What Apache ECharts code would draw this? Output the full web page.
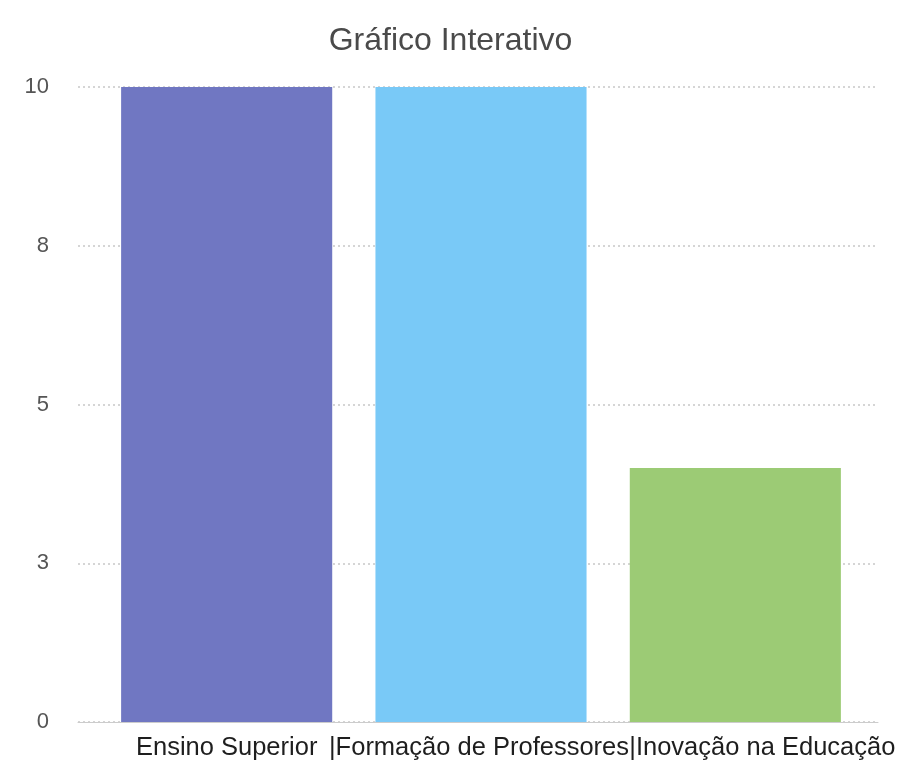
<!DOCTYPE html>
<html>
<head>
<meta charset="utf-8">
<script src="https://cdn.jsdelivr.net/npm/echarts@6/dist/echarts.min.js"></script>
<style>html,body{margin:0;padding:0;background:#fff}#c{width:901px;height:760px}</style>
</head>
<body>
<div id="c"></div>
<script>
const titleText = 'Gráfico Interativo';
const categories = ['Ensino Superior', 'Formação de Professores', 'Inovação na Educação'];
const values = [10, 10, 4];
const barColors = ['#7077C2', '#79C9F7', '#9CCB75'];
const yTicks = [0, 2.5, 5, 7.5, 10];

const FONT = '"Liberation Sans", Arial, Helvetica, sans-serif';
const chart = echarts.init(document.getElementById('c'), null, {renderer: 'canvas'});
chart.setOption({
  animation: false,
  backgroundColor: '#ffffff',
  title: {
    text: titleText, left: 'center', top: 20,
    textStyle: {fontFamily: FONT, fontSize: 32, fontWeight: 'normal', color: '#4a4a4a'}
  },
  grid: [
    {left: 78, right: 23, top: 87, bottom: 38, outerBoundsMode: 'none', containLabel: false},
    {left: 99.5, right: 38.5, top: 87, bottom: 38, outerBoundsMode: 'none', containLabel: false}
  ],
  xAxis: [
    {
      type: 'category', gridIndex: 0, data: categories,
      axisLine: {show: true, lineStyle: {color: '#ccc', width: 1}},
      axisTick: {show: false}, axisLabel: {show: false}, splitLine: {show: false}
    },
    {
      type: 'category', gridIndex: 1, data: categories,
      axisLine: {show: false}, axisTick: {show: false},
      axisLabel: {
        interval: 0, margin: 13,
        fontFamily: FONT, fontSize: 25.5, color: '#1e1e1e',
        formatter: function (v, i) {
          if (i === 0) return '{a|' + v + '}';
          if (i === 1) return '{b||' + v + '}';
          return '{c||' + v + '}';
        },
        rich: {
          a: {fontFamily: FONT, fontSize: 25.5, color: '#1e1e1e', padding: [0, 0, 0, 0]},
          b: {fontFamily: FONT, fontSize: 25.5, color: '#1e1e1e', padding: [0, 4, 0, 0]},
          c: {fontFamily: FONT, fontSize: 25.5, color: '#1e1e1e', padding: [0, 0, 0, 54]}
        }
      }
    }
  ],
  yAxis: [
    {
      type: 'value', gridIndex: 0, min: 0, max: 10, interval: 2.5,
      axisLine: {show: false}, axisTick: {show: false},
      axisLabel: {
        margin: 29, fontFamily: FONT, fontSize: 22, color: '#555',
        formatter: function (v) { return String(Math.round(v)); }
      },
      splitLine: {show: true, lineStyle: {color: '#c8c8c8', type: [2, 3], width: 1.5}}
    },
    {
      type: 'value', gridIndex: 1, min: 0, max: 10, interval: 2.5, show: false,
      splitLine: {show: false}
    }
  ],
  series: [{
    type: 'bar', xAxisIndex: 1, yAxisIndex: 1,
    barWidth: '83%',
    data: values.map((v, i) => ({value: v, itemStyle: {color: barColors[i]}}))
  }]
});
</script>
</body>
</html>
